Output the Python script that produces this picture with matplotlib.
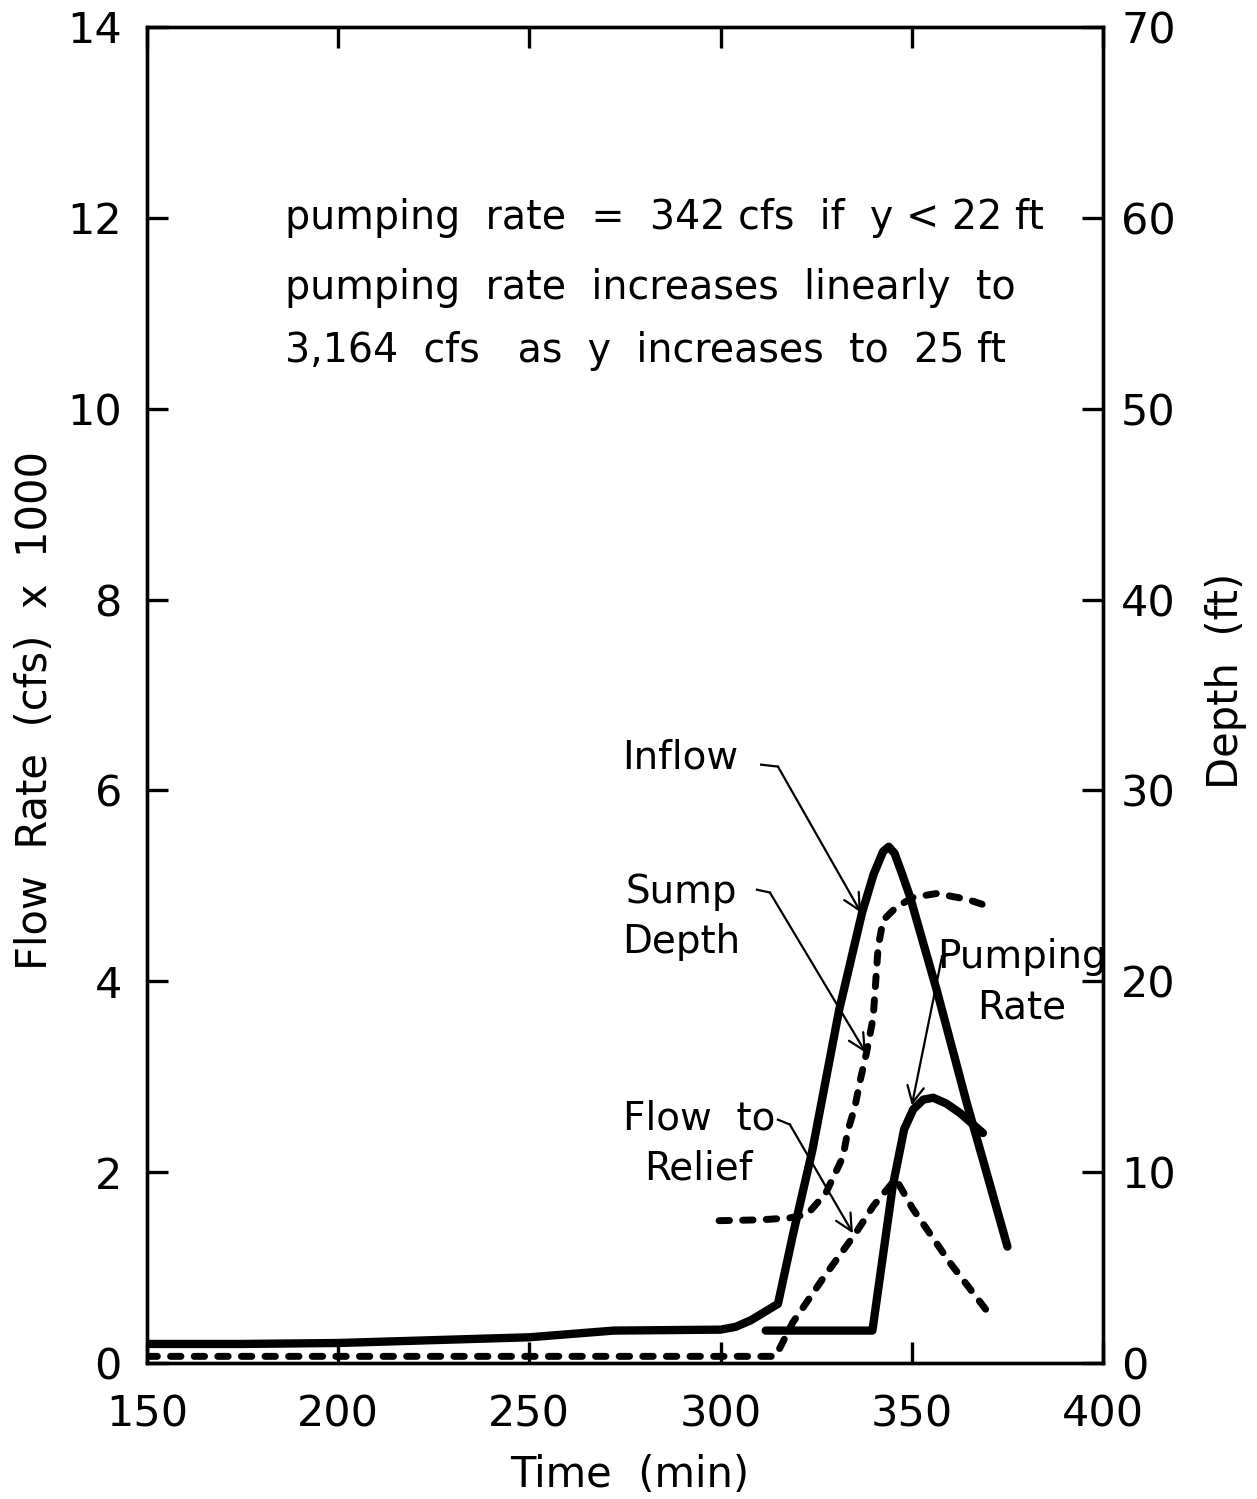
import matplotlib
matplotlib.use("Agg")
import matplotlib.pyplot as plt

# Inflow (cfs x 1000)
inflow_t = [150, 175, 200, 225, 250, 272, 300, 304, 308, 315, 319, 324, 331, 337, 340, 342.5, 344, 345.5, 347.5, 349.5, 356.5, 364.4, 368.6, 375]
inflow_q = [0.20, 0.20, 0.21, 0.24, 0.27, 0.34, 0.35, 0.38, 0.45, 0.62, 1.36, 2.23, 3.70, 4.72, 5.12, 5.36, 5.41, 5.34, 5.12, 4.89, 3.91, 2.72, 2.13, 1.22]

# Sump depth (ft), right axis
depth_t = [299.6, 310, 318, 322.7, 327.5, 332.0, 333.3, 335.1, 336.5, 338.2, 339.9, 341.2, 342.5, 346.0, 350.4, 356.5, 364.4, 370.5]
depth_y = [7.46, 7.5, 7.6, 7.8, 8.9, 10.8, 12.2, 13.4, 14.8, 16.3, 18.1, 21.8, 23.2, 23.9, 24.4, 24.6, 24.3, 23.9]

# Flow to relief (cfs x 1000)
relief_t = [150, 200, 250, 300, 314.4, 318.8, 327, 335.3, 340, 345.8, 350.2, 360, 371.1]
relief_q = [0.07, 0.07, 0.07, 0.07, 0.07, 0.42, 0.90, 1.36, 1.65, 1.93, 1.62, 1.05, 0.47]

# Pumping rate (cfs x 1000)
pump_t = [311.8, 339.7, 345, 347, 348, 350.4, 353, 355.6, 359, 362.6, 368.6]
pump_q = [0.34, 0.34, 1.85, 2.25, 2.45, 2.66, 2.76, 2.78, 2.72, 2.62, 2.41]

xticks = [150, 200, 250, 300, 350, 400]
yticks = [0, 2, 4, 6, 8, 10, 12, 14]
dticks = [0, 10, 20, 30, 40, 50, 60, 70]

plt.rcParams['font.family'] = ['DejaVu Sans']

fig = plt.figure(figsize=(12.57, 14.99), dpi=100)
ax = fig.add_axes([0.1169, 0.0907, 0.7606, 0.8913])
ax2 = ax.twinx()

ax.plot(inflow_t, inflow_q, color='black', lw=6, solid_capstyle='round', solid_joinstyle='round')
ax.plot(pump_t, pump_q, color='black', lw=6, solid_capstyle='round', solid_joinstyle='round')
ax.plot(relief_t, relief_q, color='black', lw=5, dashes=(1.5, 1.9), dash_capstyle='round')
ax2.plot(depth_t, depth_y, color='black', lw=5, dashes=(1.5, 1.9), dash_capstyle='round')

ax.set_xlim(150, 400)
ax.set_ylim(0, 14)
ax2.set_ylim(0, 70)
ax.set_xticks(xticks)
ax.set_yticks(yticks)
ax2.set_yticks(dticks)

for a in (ax, ax2):
    for s in a.spines.values():
        s.set_linewidth(2.4)

ax.tick_params(axis='x', direction='in', length=15, width=2.4, top=True, labelsize=31, pad=22)
ax.tick_params(axis='y', direction='in', length=15, width=2.4, right=False, labelsize=31, pad=18)
ax2.tick_params(axis='y', direction='in', length=15, width=2.4, labelsize=31, pad=13)

fig.text(0.501, 0.016, 'Time  (min)', fontsize=30, ha='center', va='center')
fig.text(0.028, 0.526, 'Flow  Rate  (cfs)  x  1000', fontsize=30, rotation=90, ha='center', va='center')
fig.text(0.975, 0.546, 'Depth  (ft)', fontsize=30, rotation=90, ha='center', va='center')

txt = ['pumping  rate  =  342 cfs  if  y < 22 ft',
       'pumping  rate  increases  linearly  to',
       '3,164  cfs   as  y  increases  to  25 ft']
for i, line in enumerate(txt):
    ax.text(186.1, [12.0, 11.27, 10.6][i], line, fontsize=28.5, ha='left', va='center')

# curve labels with leader arrows
lab = dict(fontsize=28, ha='center', va='center', linespacing=1.4)
ax.text(289.4, 6.35, 'Inflow', **lab)
ax.text(289.6, 4.67, 'Sump\nDepth', **lab)
ax.text(294.3, 2.30, 'Flow  to\nRelief', **lab)
ax.text(378.8, 3.99, 'Pumping\nRate', **lab)

arr = dict(arrowstyle='->', color='black', lw=1.6, mutation_scale=30, shrinkA=0, shrinkB=0)
leaders = [((310.6, 6.27), (315.0, 6.25), (336.7, 4.72)),
           ((309.5, 4.96), (312.9, 4.93), (338.0, 3.25)),
           ((315.0, 2.55), (318.1, 2.50), (334.6, 1.36)),
           ((360.0, 4.28), (357.9, 4.26), (350.0, 2.70))]
for s, k, tip in leaders:
    ax.plot([s[0], k[0]], [s[1], k[1]], color='black', lw=1.6)
    ax.annotate('', xy=tip, xytext=k, arrowprops=arr)

fig.savefig('out.png', dpi=100)
